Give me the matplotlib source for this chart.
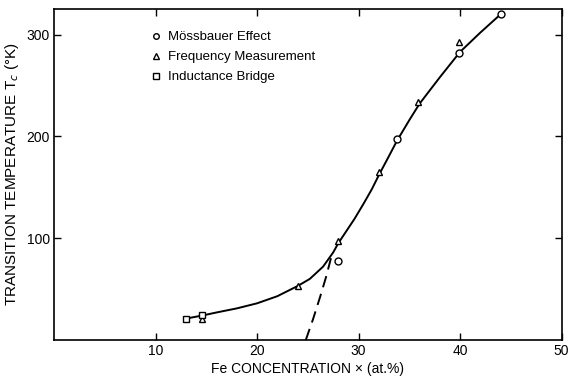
import matplotlib.pyplot as plt

# data
moss_x = [28.0, 33.8, 39.9, 44.0]
moss_y = [78, 197, 282, 320]

freq_x = [14.6, 24.0, 28.0, 32.0, 35.9, 39.9]
freq_y = [21, 53, 97, 165, 234, 293]

ind_x = [13.0, 14.6]
ind_y = [21, 25]

curve_x = [13, 14.6, 16, 18, 20, 22, 24, 25.2, 26.5, 27.5, 28, 29, 29.6, 30.5,
           31.3, 32, 32.8, 33.8, 35, 36, 38, 40, 42, 44]
curve_y = [21, 24, 27, 31, 36, 43, 53, 60, 72, 86, 95, 110, 119, 134,
           148, 162, 177, 196, 216, 232, 258, 283, 302, 320]

dash_x = [24.8, 25.5, 26.2, 26.8, 27.4]
dash_y = [0, 20, 42, 62, 85]

xticks = [10, 20, 30, 40, 50]
yticks = [100, 200, 300]

plt.rcParams['font.family'] = ['Liberation Sans', 'DejaVu Sans']

fig = plt.figure(figsize=(5.71, 3.79), dpi=100)
ax = fig.add_axes([0.0946, 0.103, 0.889, 0.873])

ax.plot(curve_x, curve_y, color='black', lw=1.4, zorder=2)
ax.plot(dash_x, dash_y, color='black', lw=1.4, ls=(0, (6, 3.5)), zorder=2)

mk = dict(ls='none', mfc='white', mec='black', mew=1.0, ms=5, zorder=3)
ax.plot(moss_x, moss_y, marker='o', label='Mössbauer Effect', **mk)
ax.plot(freq_x, freq_y, marker='^', label='Frequency Measurement', **mk)
ax.plot(ind_x, ind_y, marker='s', label='Inductance Bridge', **mk)

ax.set_xlim(0, 50)
ax.set_ylim(0, 325)
ax.set_xticks(xticks)
ax.set_yticks(yticks)
ax.tick_params(direction='in', length=5, width=1, top=True, right=True,
               labelsize=10, pad=3)
for s in ax.spines.values():
    s.set_linewidth(1.2)

ax.set_xlabel('Fe CONCENTRATION × (at.%)', fontsize=10, labelpad=3)
ax.set_ylabel('TRANSITION TEMPERATURE T$_c$ (°K)', fontsize=11, labelpad=4)

ax.legend(loc='upper left', bbox_to_anchor=(0.17, 0.97), frameon=False,
          fontsize=9.5, handlelength=0.6, handletextpad=0.6, labelspacing=0.6,
          markerscale=0.8)

plt.savefig('out.png', dpi=100)
